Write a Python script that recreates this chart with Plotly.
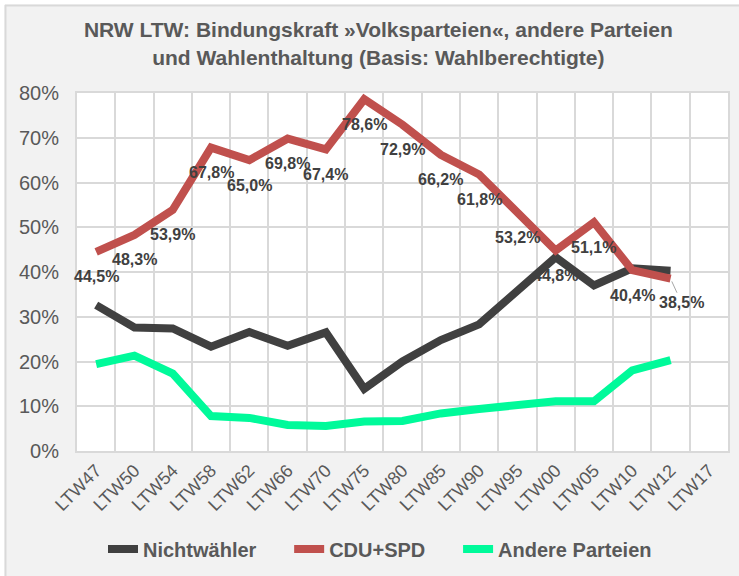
import plotly.graph_objects as go

categories = ["LTW47", "LTW50", "LTW54", "LTW58", "LTW62", "LTW66", "LTW70", "LTW75",
              "LTW80", "LTW85", "LTW90", "LTW95", "LTW00", "LTW05", "LTW10", "LTW12", "LTW17"]
data_categories = categories[:16]

nichtwaehler = [32.6, 27.6, 27.4, 23.3, 26.6, 23.5, 26.5, 13.9, 20.0, 24.8, 28.3, 35.9, 43.3, 37.0, 40.8, 40.3]
cdu_spd = [44.5, 48.3, 53.9, 67.8, 65.0, 69.8, 67.4, 78.6, 72.9, 66.2, 61.8, 53.2, 44.8, 51.1, 40.4, 38.5]
andere = [19.4, 21.3, 17.3, 7.8, 7.4, 5.8, 5.6, 6.6, 6.7, 8.4, 9.4, 10.2, 11.1, 11.1, 18.0, 20.3]

y_ticks = [0, 10, 20, 30, 40, 50, 60, 70, 80]
y_ticktext = [f"{v}%" for v in y_ticks]

W, H = 739, 576
ML, MR, MT, MB = 77, 11, 93, 125
PW, PH = W - ML - MR, H - MT - MB


def px_x(px):
    return (px - ML) / PW


def px_y(py):
    return (H - MB - py) / PH


PAD = "\u00a0" * 5

fig = go.Figure()
fig.add_trace(go.Scatter(x=data_categories, y=nichtwaehler, mode="lines", name="Nichtwähler" + PAD,
                         line=dict(color="#404040", width=8)))
fig.add_trace(go.Scatter(x=data_categories, y=cdu_spd, mode="lines", name="CDU+SPD" + PAD,
                         line=dict(color="#c0504d", width=8)))
fig.add_trace(go.Scatter(x=data_categories, y=andere, mode="lines", name="Andere Parteien",
                         line=dict(color="#00fa9a", width=8)))

label_font = dict(family="Liberation Sans, Arial", size=16, color="#404040", weight="bold")
annotations = []
for i, (c, v) in enumerate(zip(data_categories, cdu_spd)):
    txt = f"{v:.1f}".replace(".", ",") + "%"
    if i == len(cdu_spd) - 1:
        annotations.append(dict(x=c, y=v, xref="x", yref="y", text=txt, showarrow=True,
                                arrowhead=0, arrowwidth=1, arrowcolor="#a6a6a6",
                                ax=11, ay=24, standoff=3, font=label_font))
    else:
        annotations.append(dict(x=c, y=v, xref="x", yref="y", text=txt, showarrow=False,
                                yanchor="middle", xanchor="center", yshift=-25, font=label_font))

shapes = [
    dict(type="rect", xref="paper", yref="paper", x0=px_x(0), x1=px_x(4.5), y0=px_y(H), y1=px_y(0),
         fillcolor="white", line=dict(width=0), layer="above"),
    dict(type="rect", xref="paper", yref="paper", x0=px_x(0), x1=px_x(W), y0=px_y(4.5), y1=px_y(0),
         fillcolor="white", line=dict(width=0), layer="above"),
    dict(type="line", xref="paper", yref="paper", x0=px_x(5.5), x1=px_x(5.5), y0=px_y(5), y1=px_y(H),
         line=dict(color="#d9d9d9", width=2), layer="above"),
    dict(type="line", xref="paper", yref="paper", x0=px_x(5), x1=px_x(W), y0=px_y(5.5), y1=px_y(5.5),
         line=dict(color="#d9d9d9", width=2), layer="above"),
]

fig.update_layout(
    width=W, height=H,
    margin=dict(l=ML, r=MR, t=MT, b=MB, autoexpand=False),
    paper_bgcolor="#f2f2f2",
    plot_bgcolor="white",
    font=dict(family="Liberation Sans, Arial", color="#595959"),
    title=dict(text="NRW LTW: Bindungskraft »Volksparteien«, andere Parteien<br>und Wahlenthaltung (Basis: Wahlberechtigte)",
               x=0.512, xanchor="center", xref="container",
               y=0.935, yanchor="top", yref="container",
               font=dict(size=21, color="#595959", weight="bold")),
    xaxis=dict(type="category", categoryorder="array", categoryarray=categories,
               range=[-0.5, 16.5], tickson="boundaries", showgrid=True, automargin=False,
               gridcolor="#d9d9d9", gridwidth=2, tickangle=-45, ticks="",
               tickfont=dict(size=18, color="#595959"),
               showline=True, linecolor="#d9d9d9", linewidth=2, mirror=True),
    yaxis=dict(range=[0, 80], tickmode="array", tickvals=y_ticks, ticktext=y_ticktext,
               showgrid=True, automargin=False,
               gridcolor="#d9d9d9", gridwidth=2, zeroline=False, ticks="",
               ticklabelstandoff=12,
               tickfont=dict(size=20, color="#595959"),
               showline=True, linecolor="#d9d9d9", linewidth=2, mirror=True),
    legend=dict(orientation="h", x=px_x(380), xanchor="center", y=px_y(549), yanchor="middle",
                font=dict(size=20, color="#595959", weight="bold"), bgcolor="rgba(0,0,0,0)"),
    annotations=annotations,
    shapes=shapes,
)

fig.write_html("out.html", config={"displayModeBar": False},
               post_script="document.body.style.margin='0';document.body.style.padding='0';")
